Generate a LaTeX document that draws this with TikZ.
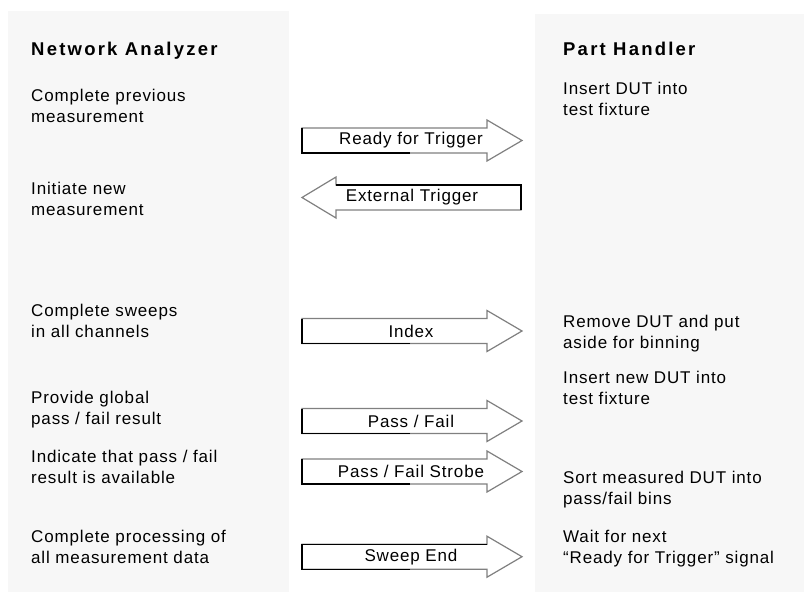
\documentclass[tikz,border=0pt]{standalone}
\usepackage{fontspec}
\setmainfont{Liberation Sans}[LetterSpace=5]
\newfontfamily\headfont{Liberation Sans}[LetterSpace=12]
\definecolor{panel}{gray}{0.97}
\definecolor{edgegray}{gray}{0.5}
\tikzset{
  txt/.style={anchor=base west, inner sep=0pt, align=left, font=\fontsize{17}{21.5}\selectfont},
  head/.style={anchor=base west, inner sep=0pt, font=\headfont\bfseries\fontsize{18.5}{22}\selectfont},
  lbl/.style={inner sep=0pt, font=\fontsize{17}{20}\selectfont},
  arrbody/.style={fill=white, draw=edgegray, line width=1.2pt, line join=miter},
  arrdark/.style={draw=black, line width=1.2pt}
}
\newcommand\rarr[3]{%
  \path[arrbody] (302,#2-12.5) -- (487,#2-12.5) -- (487,#2-20.5) -- (522,#2) -- (487,#2+20.5) -- (487,#2+12.5) -- (302,#2+12.5) -- cycle;
  \draw[arrdark] (410,#2+12.5) -- (302,#2+12.5) -- (302,#2-12.5);
  \node[lbl] (#1) at (411,#2) {#3};}
\newcommand\larr[3]{%
  \path[arrbody] (521,#2-12.5) -- (336,#2-12.5) -- (336,#2-20.5) -- (302,#2) -- (336,#2+20.5) -- (336,#2+12.5) -- (521,#2+12.5) -- cycle;
  \draw[arrdark] (336,#2-12.5) -- (521,#2-12.5) -- (521,#2+12.5);
  \node[lbl] (#1) at (412,#2) {#3};}
\begin{document}
\begin{tikzpicture}[x=1pt,y=-1pt]
\useasboundingbox (0,0) rectangle (804,592);
\fill[white] (0,0) rectangle (804,592);
\fill[panel] (8,11) rectangle (289,592);
\fill[panel] (535,14) rectangle (804,592);
% left column (anchor = baseline of the last line)
\node[head] (na) at (31,55) {Network Analyzer};
\node[txt] (l1) at (31,122.5) {Complete previous\\measurement};
\node[txt] (l2) at (31,215.5) {Initiate new\\measurement};
\node[txt] (l3) at (31,337.5) {Complete sweeps\\in all channels};
\node[txt] (l4) at (31,424.5) {Provide global\\pass / fail result};
\node[txt] (l5) at (31,483.5) {Indicate that pass / fail\\result is available};
\node[txt] (l6) at (31,563.5) {Complete processing of\\all measurement data};
% right column
\node[head] (ph) at (563,55) {Part Handler};
\node[txt] (r1) at (563,115.5) {Insert DUT into\\test fixture};
\node[txt] (r2) at (563,348.5) {Remove DUT and put\\aside for binning};
\node[txt] (r3) at (563,404.5) {Insert new DUT into\\test fixture};
\node[txt] (r4) at (563,504.5) {Sort measured DUT into\\pass/fail bins};
\node[txt] (r5) at (563,563.5) {Wait for next\\``Ready for Trigger'' signal};
% arrows
\rarr{a1}{140.5}{Ready for Trigger}
\larr{a2}{197.5}{External Trigger}
\rarr{a3}{331}{Index}
\rarr{a4}{421}{Pass / Fail}
\rarr{a5}{471.5}{Pass / Fail Strobe}
\rarr{a6}{556.7}{Sweep End}
\draw[arrdark] (302,556.7-12.5) -- (487,556.7-12.5);
\end{tikzpicture}
\end{document}
